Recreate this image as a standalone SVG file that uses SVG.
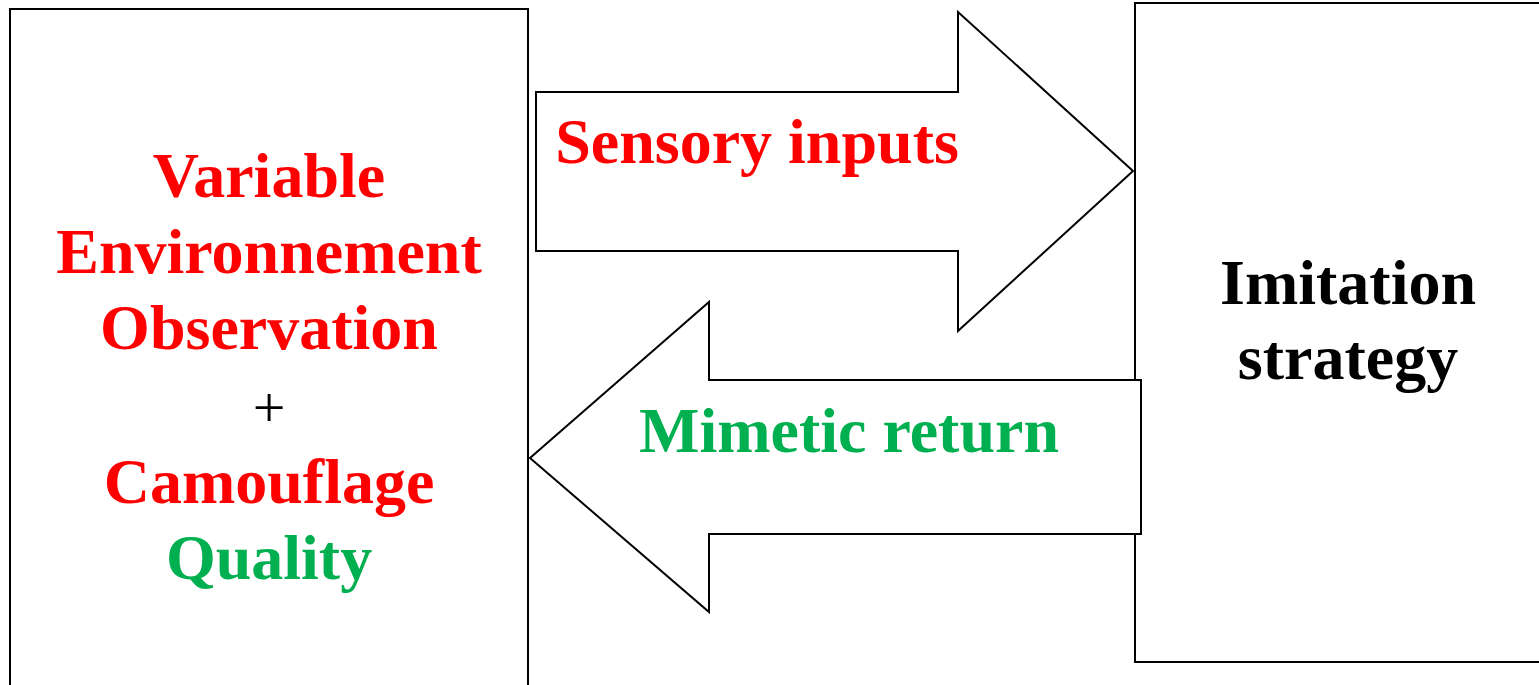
<svg xmlns="http://www.w3.org/2000/svg" width="1539" height="685" viewBox="0 0 1539 685">
  <style>
    .box { fill: #ffffff; stroke: #000000; stroke-width: 2; }
    .arrow { fill: #ffffff; stroke: #000000; stroke-width: 2; stroke-linejoin: miter; }
    .lbl { font-family: "Liberation Serif", "Times New Roman", serif; font-weight: bold; font-size: 64px; text-anchor: middle; }
    .red { fill: #ff0000; }
    .green { fill: #00b050; }
    .black { fill: #000000; }
    .plus { font-family: "Liberation Serif", "Times New Roman", serif; font-weight: normal; font-size: 58px; text-anchor: middle; fill: #000000; }
  </style>
  <rect width="1539" height="685" fill="#ffffff"/>

  <g id="node-environment">
    <rect class="box" x="10" y="9" width="518" height="680"/>
    <text class="lbl red" x="269" y="197">Variable</text>
    <text class="lbl red" x="269" y="273">Environnement</text>
    <text class="lbl red" x="269" y="349">Observation</text>
    <text class="plus" x="269" y="427">+</text>
    <text class="lbl red" x="269" y="503">Camouflage</text>
    <text class="lbl green" x="269" y="579">Quality</text>
  </g>

  <g id="node-imitation">
    <rect class="box" x="1135" y="3" width="430" height="659"/>
    <text class="lbl black" x="1348" y="304">Imitation</text>
    <text class="lbl black" x="1348" y="379">strategy</text>
  </g>

  <!-- block arrows sit on top of the boxes -->
  <g id="connectors">
    <!-- forward arrow: sensory inputs -->
    <polygon id="arrow-sensory" class="arrow" points="536,92 958,92 958,12 1133,171 958,331 958,251 536,251"/>
    <text class="lbl red" x="757" y="163">Sensory inputs</text>
    <!-- return arrow: mimetic return -->
    <polygon id="arrow-mimetic" class="arrow" points="1141,380 709,380 709,302 530,458 709,612 709,534 1141,534"/>
    <text class="lbl green" x="849" y="452">Mimetic return</text>
  </g>
</svg>
